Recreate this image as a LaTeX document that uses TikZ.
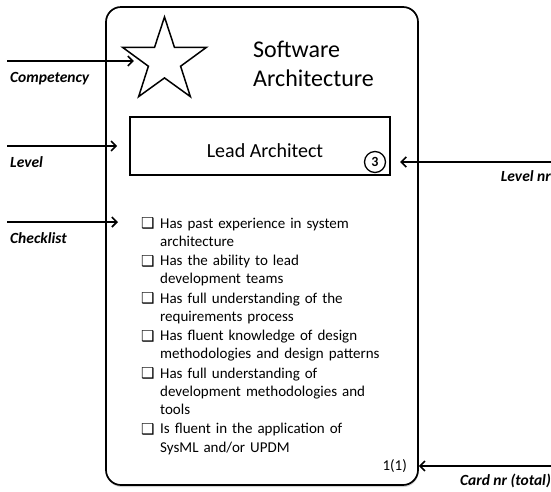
\documentclass[tikz,border=0pt]{standalone}
\usepackage{fontspec}
\setmainfont{Carlito}
\newfontfamily\symfont{DejaVu Sans}
\usetikzlibrary{arrows.meta,positioning,calc,shapes.geometric,shadows}

\newcommand\chkbox{{\symfont\fontsize{15}{15}\selectfont ❑}}
\newcommand\chkitem[1]{\makebox[19pt][l]{\raisebox{-0.5pt}{\chkbox}}\begin{tabular}[t]{@{}l@{}}#1\end{tabular}\par}

\begin{document}
\begin{tikzpicture}[x=1pt,y=-1pt,>={Straight Barb[length=5pt,width=10pt]},
  pointer/.style={->,line width=1.6pt},
  tag/.style={font=\fontsize{15.5}{18}\selectfont\bfseries\itshape,inner sep=0pt}]
  \useasboundingbox (0,0) rectangle (551,491);

  % kaart
  \node[draw,line width=1.7pt,rounded corners=15pt,fill=white,
    minimum width=312pt,minimum height=478pt,
    drop shadow={shadow xshift=0.5pt,shadow yshift=-2pt,opacity=0.35}] (card) at (262,246) {};

  % competentie: ster en titel
  \node[star,star points=5,star point ratio=2.6,draw,line width=1.5pt,
    minimum size=88pt,inner sep=0pt] (star) at (164.5,61) {};
  \node[anchor=base west,align=left,inner sep=0pt,
    font=\fontsize{24}{29}\selectfont] (title) at (253,86) {Software\\Architecture};

  % niveau
  \node[draw,line width=1.6pt,minimum width=260pt,minimum height=58pt] (level) at (260,146) {};
  \node[font=\fontsize{20}{24}\selectfont] (levelname) at (265,151) {Lead Architect};
  \node[circle,draw,line width=1.3pt,minimum size=21pt,inner sep=0pt,
    font=\fontsize{14}{16}\selectfont\bfseries] (levelnum) at (375,162) {3};

  % checklist
  \node[anchor=north west,inner sep=0pt,text width=250pt,
    font=\fontsize{15}{18.25}\selectfont] (checklist) at (141,215.2) {%
    \chkitem{Has past experience in system\\architecture}
    \chkitem{Has the ability to lead\\development teams}
    \chkitem{Has full understanding of the\\requirements process}
    \chkitem{Has fluent knowledge of design\\methodologies and design patterns}
    \chkitem{Has full understanding of\\development methodologies and\\tools}
    \chkitem{Is fluent in the application of\\SysML and/or UPDM}};

  % kaartnummer
  \node[anchor=base east,inner sep=0pt,font=\fontsize{15}{18}\selectfont] (cardnum) at (407,470) {1(1)};

  % pijlen links
  \coordinate (compin) at (7,61);
  \coordinate (levelin) at (7,146);
  \coordinate (chkin) at (7,222);
  \draw[pointer,shorten >=6pt] (compin) -- (compin -| star.west);
  \draw[pointer,shorten >=12pt] (levelin) -- (levelin -| level.west);
  \draw[pointer,shorten >=23pt] (chkin) -- (chkin -| checklist.west);
  \node[tag,anchor=base west] (comptag) at (10,82) {Competency};
  \node[tag,anchor=base west] (leveltag) at (10,167) {Level};
  \node[tag,anchor=base west] (chktag) at (10,243) {Checklist};

  % pijlen rechts
  \coordinate (numin) at (551,162);
  \coordinate (cardin) at (551,466);
  \draw[pointer,shorten >=14pt] (numin) -- (levelnum.east);
  \draw[pointer] (cardin) -- (cardin -| card.east);
  \node[tag,anchor=base east] (numtag) at (551,181) {Level nr};
  \node[tag,anchor=base east] (cardtag) at (551,485) {Card nr (total)};
\end{tikzpicture}
\end{document}
